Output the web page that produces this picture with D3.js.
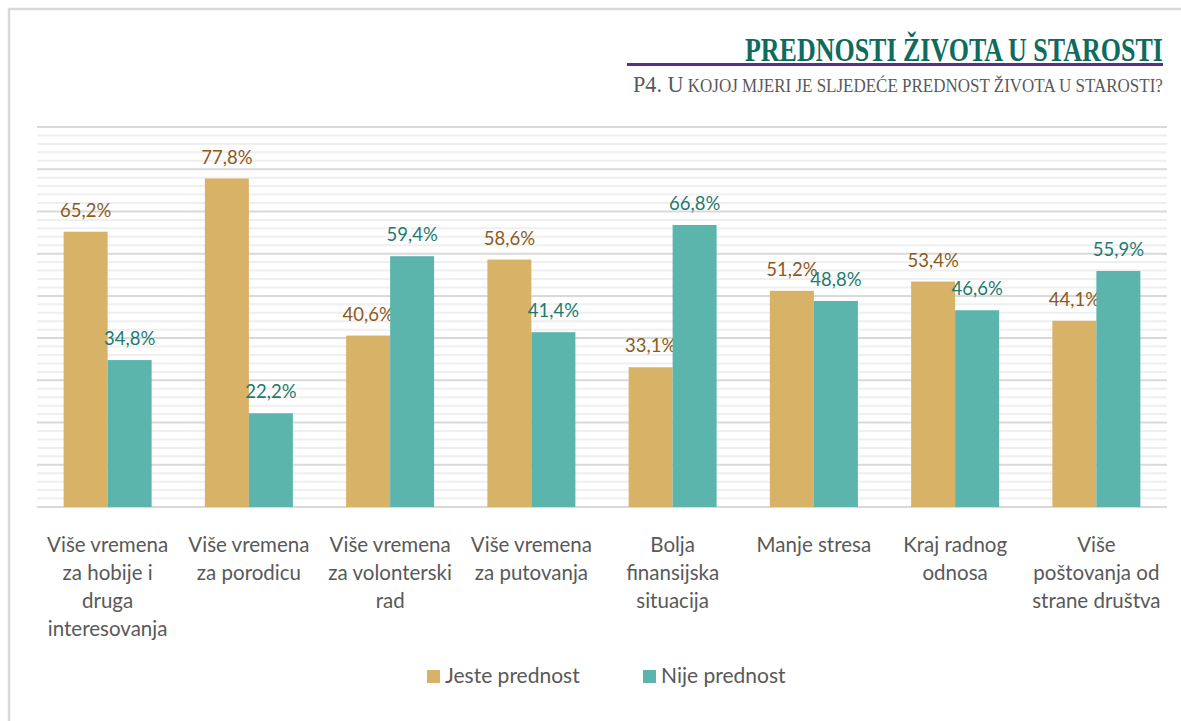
<!DOCTYPE html>
<html><head><meta charset="utf-8">
<script src="https://cdn.jsdelivr.net/npm/d3@7"></script>
<style>body{margin:0;background:#fff}svg{display:block}</style>
</head><body>
<svg id="chart" width="1181" height="721"></svg>
<script>
const categories = [
  "Više vremena\nza hobije i\ndruga\ninteresovanja",
  "Više vremena\nza porodicu",
  "Više vremena\nza volonterski\nrad",
  "Više vremena\nza putovanja",
  "Bolja\nfinansijska\nsituacija",
  "Manje stresa",
  "Kraj radnog\nodnosa",
  "Više\npoštovanja od\nstrane društva"
];
const seriesNames = ["Jeste prednost", "Nije prednost"];
const jeste = [65.2, 77.8, 40.6, 58.6, 33.1, 51.2, 53.4, 44.1];
const nije = [34.8, 22.2, 59.4, 41.4, 66.8, 48.8, 46.6, 55.9];
const title = "PREDNOSTI ŽIVOTA U STAROSTI";
const subtitleLead = "P4. U";
const subtitleRest = " kojoj mjeri je sljedeće prednost života u starosti?";

const svg = d3.select("#chart");
const fill = ["#D8B266", "#5BB5AC"];
const labelCol = ["#8C5A1E", "#1E7A70"];

// frame
svg.append("path").attr("d","M9,721 V9 H1181").attr("fill","none").attr("stroke","#d9d9d9").attr("stroke-width",2.5);

// fit text to a width (right aligned) using a horizontal scale
function fitText(sel, right, y, width){
  sel.attr("x",0).attr("y",0);
  const w = sel.node().getBBox().width;
  const s = width / w;
  sel.attr("transform",`translate(${right - width},${y}) scale(${s},1)`);
}
// title
const tt = svg.append("text")
  .attr("font-family","Liberation Serif, serif").attr("font-weight","bold").attr("font-size",33)
  .attr("fill","#0E6B5E").text(title);
fitText(tt, 1163, 61, 418);
svg.append("line").attr("x1",627).attr("x2",1163).attr("y1",64.5).attr("y2",64.5).attr("stroke","#5B2D8E").attr("stroke-width",3);
const st = svg.append("text")
  .attr("font-family","Liberation Serif, serif").attr("fill","#595959");
st.append("tspan").attr("font-size",23.5).text(subtitleLead);
st.append("tspan").attr("font-size",18).text(subtitleRest.toUpperCase());
fitText(st, 1163, 92, 530);

const x0 = d3.scaleBand().domain(d3.range(categories.length)).range([37,1167]).paddingInner(0).paddingOuter(0);
const y = d3.scaleLinear().domain([0,90]).range([507,127]);

// grid
const minor = d3.range(0,90.01,2);
svg.append("g").selectAll("line").data(minor).join("line")
  .attr("x1",37).attr("x2",1167).attr("y1",d=>y(d)).attr("y2",d=>y(d))
  .attr("stroke",d=>d%10===0?"#d9d9d9":"#efefef").attr("stroke-width",2);

const bw = 44;
const data = categories.map((c,i)=>({i, vals:[jeste[i], nije[i]]}));
const g = svg.append("g");
data.forEach(d=>{
  const cx = x0(d.i) + x0.bandwidth()/2;
  d.vals.forEach((v,k)=>{
    const xx = cx - bw + k*bw;
    g.append("rect").attr("x",xx).attr("y",y(v)).attr("width",bw).attr("height",y(0)-y(v)).attr("fill",fill[k]);
    g.append("text").attr("x",xx+bw/2).attr("y",y(v)-15).attr("text-anchor","middle")
      .attr("font-family","Lato, sans-serif").attr("font-size",18.5).attr("fill",labelCol[k])
      .text(v.toFixed(1).replace(".",",")+"%");
  });
});

// category labels
categories.forEach((c,i)=>{
  const cx = x0(i) + x0.bandwidth()/2;
  const t = svg.append("text").attr("x",cx).attr("y",552).attr("text-anchor","middle")
    .attr("font-family","Lato, sans-serif").attr("font-size",20.5).attr("fill","#595959");
  c.split("\n").forEach((ln,j)=>{
    t.append("tspan").attr("x",cx).attr("dy", j===0?0:28).text(ln);
  });
});

// legend
const lx = [427, 643];
seriesNames.forEach((s,k)=>{
  svg.append("rect").attr("x",lx[k]).attr("y",670).attr("width",13).attr("height",13).attr("fill",fill[k]);
  svg.append("text").attr("x",lx[k]+18).attr("y",683).attr("font-family","Lato, sans-serif")
    .attr("font-size",21).attr("fill","#595959").text(s);
});
</script>
</body></html>
